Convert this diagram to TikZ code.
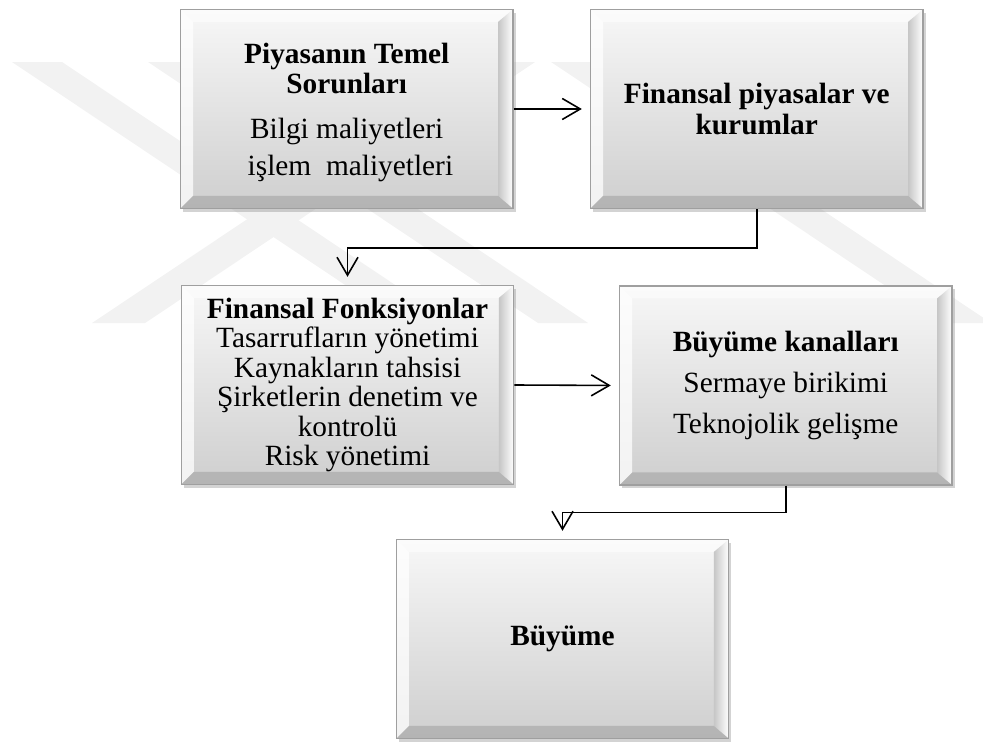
\documentclass[tikz,border=0pt]{standalone}
\usepackage{fontspec}
\setmainfont{Liberation Serif}
\usetikzlibrary{arrows.meta,shadows}

% kutunun kabartma kenarlari
\newcommand\kutuyuz{%
  \path (path picture bounding box.south west) coordinate (sw)
        (path picture bounding box.north west) coordinate (nw)
        (path picture bounding box.north east) coordinate (ne)
        (path picture bounding box.south east) coordinate (se);
  \path ([shift={(0.25,0.25)}]sw) coordinate (isw)
        ([shift={(0.25,-0.25)}]nw) coordinate (inw)
        ([shift={(-0.3,-0.25)}]ne) coordinate (ine)
        ([shift={(-0.3,0.25)}]se) coordinate (ise);
  \fill[white,opacity=0.75] (sw) -- (nw) -- (inw) -- (isw) -- cycle; % sol
  \fill[white,opacity=0.55] (nw) -- (ne) -- (ine) -- (inw) -- cycle; % ust
  \shade[left color=gray!45,right color=white] (ne) -- (se) -- (ise) -- (ine) -- cycle; % sag
  \fill[black,opacity=0.13] (sw) -- (se) -- (ise) -- (isw) -- cycle; % alt
}

\tikzset{
  kutu/.style={draw=gray!75, line width=0.8pt, minimum width=6.65cm, minimum height=3.98cm,
    align=center, inner sep=0pt, top color=gray!6, bottom color=gray!38,
    drop shadow={shadow xshift=0.05cm, shadow yshift=-0.07cm, opacity=0.35},
    path picture={\kutuyuz}, font=\fontsize{16.7}{16.7}\selectfont},
  ok/.style={-{Straight Barb[length=0.36cm,width=0.42cm]}, line width=0.9pt, shorten >=0.16cm},
  filigran/.style={fill=black!5}
}

\begin{document}
\begin{tikzpicture}
  \useasboundingbox (0,0) rectangle (19.66,14.84);

  % arka plandaki filigran
  \begin{scope}[x=0.02cm,y=-0.02cm,yshift=14.84cm]
    \fill[filigran] (12,62) -- (62,62) -- (452,323) -- (402,323) -- cycle;
    \fill[filigran] (148,62) -- (198,62) -- (588,323) -- (538,323) -- cycle;
    \fill[filigran] (92,323) -- (145,323) -- (535,62) -- (482,62) -- cycle;
    \fill[filigran] (551,62) -- (601,62) -- (991,323) -- (941,323) -- cycle;
  \end{scope}

  \node[kutu] (sorun) at (6.935,12.66) {\rule{0pt}{16pt}\textbf{Piyasanın Temel}\\\textbf{Sorunları}\\[8.8pt]Bilgi maliyetleri\\[4.8pt]\ işlem~~maliyetleri}; %ust sol
  \node[kutu] (piyasa) at (15.135,12.66) {\textbf{Finansal piyasalar ve}\\[1pt]\textbf{kurumlar}}; %ust sag
  \node[kutu] (fonksiyon) at (6.95,7.14) {\textbf{Finansal Fonksiyonlar}\\Tasarrufların yönetimi\\Kaynakların tahsisi\\Şirketlerin denetim ve\\kontrolü\\Risk yönetimi}; %orta sol
  \node[kutu] (kanal) at (15.715,7.13) {\textbf{Büyüme kanalları}\\[6.8pt]Sermaye birikimi\\[6.8pt]Teknojolik gelişme}; %orta sag
  \node[kutu] (buyume) at (11.25,2.06) {\textbf{Büyüme}}; %alt

  \draw[ok] (sorun.east) -- (piyasa.west);
  \draw[ok] (piyasa.south) -- ++(0,-0.78) -| (fonksiyon.north);
  \draw[ok] (fonksiyon.east) -- (kanal.west);
  \draw[ok] (kanal.south) -- ++(0,-0.54) -| (buyume.north);
\end{tikzpicture}
\end{document}
